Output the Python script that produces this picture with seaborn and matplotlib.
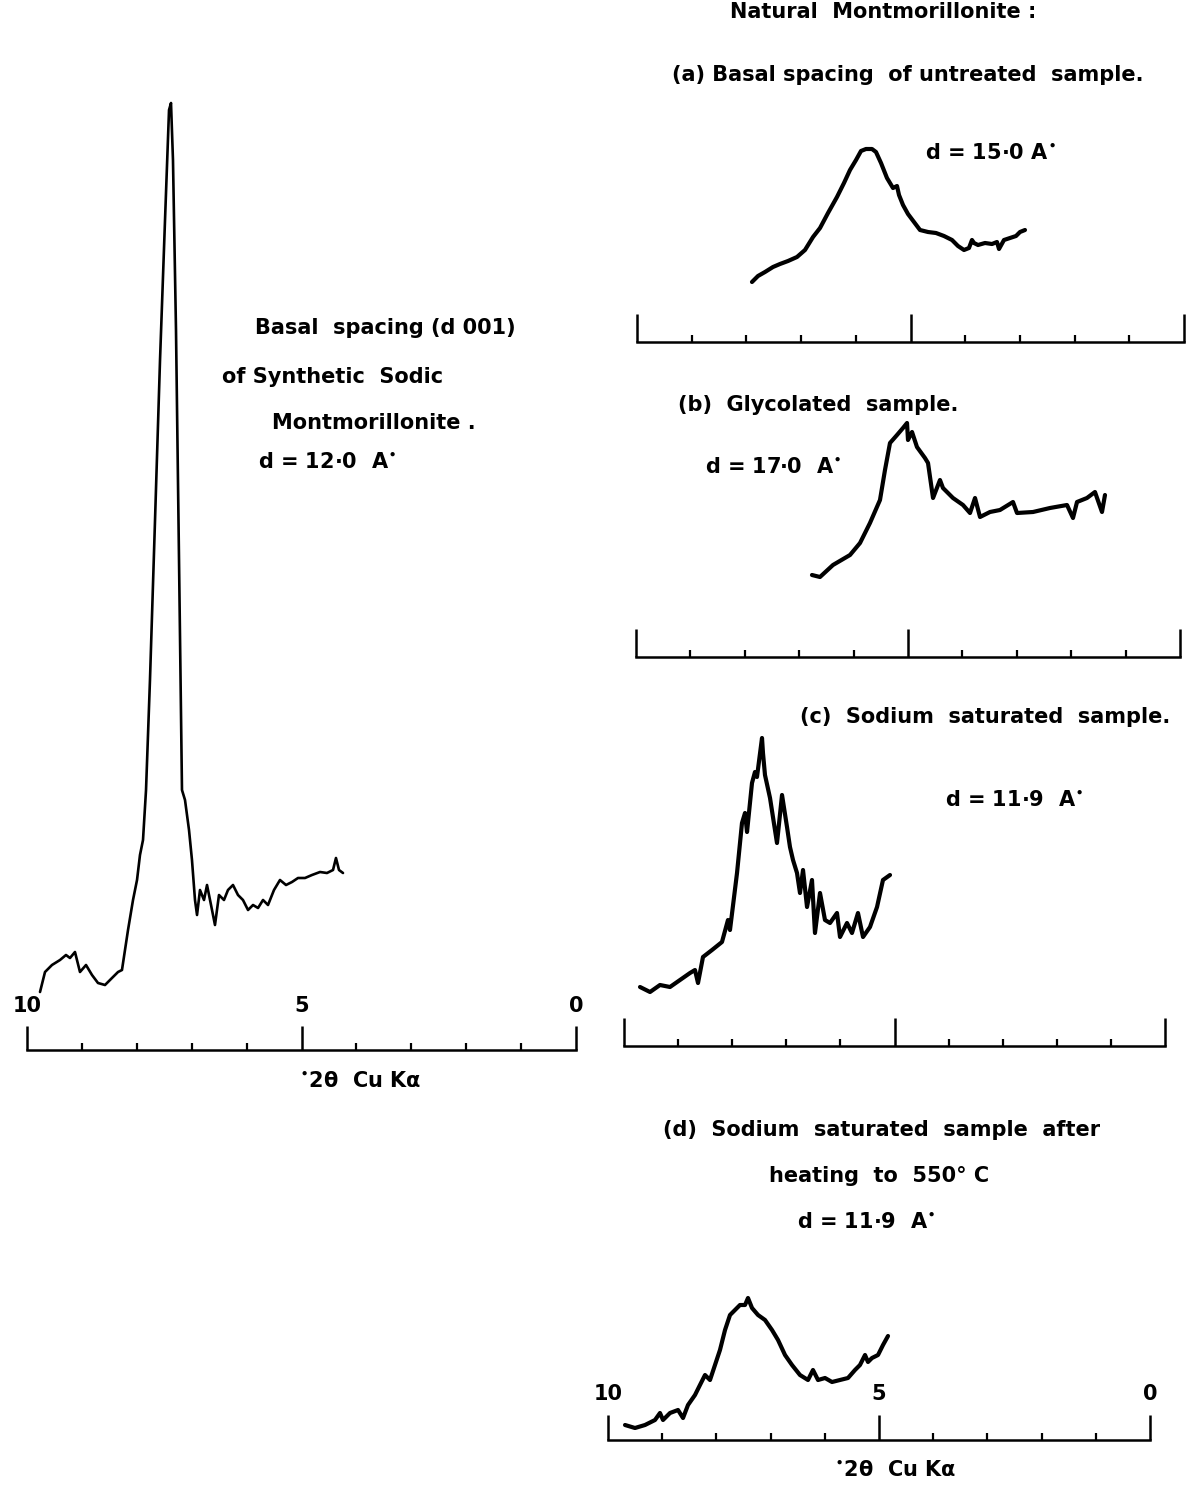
import numpy as np
import pandas as pd
import matplotlib
matplotlib.use("Agg")
import matplotlib.pyplot as plt
import seaborn as sns
from matplotlib.ticker import FixedLocator

# ---------------- diffraction traces (°2θ, relative intensity) ----------------
# Synthetic sodic montmorillonite, d(001) = 12.0 Å
two_theta_synth = [9.763, 9.672, 9.545, 9.399, 9.290, 9.217, 9.126, 9.035, 8.925, 8.816,
                   8.707, 8.579, 8.452, 8.342, 8.270, 8.160, 8.069, 7.996, 7.942, 7.887,
                   7.832, 7.760, 7.668, 7.577, 7.486, 7.413, 7.377, 7.341, 7.286, 7.231,
                   7.177, 7.122, 7.049, 6.995, 6.940, 6.903, 6.849, 6.776, 6.721, 6.648,
                   6.576, 6.503, 6.412, 6.339, 6.248, 6.157, 6.066, 5.974, 5.883, 5.792,
                   5.701, 5.610, 5.501, 5.392, 5.282, 5.173, 5.064, 4.936, 4.809, 4.663,
                   4.536, 4.426, 4.372, 4.317, 4.244]
counts_synth = [58, 78, 85, 90, 95, 92, 98, 78, 85, 75,
                67, 65, 72, 78, 80, 120, 150, 170, 195, 210,
                260, 370, 530, 690, 830, 940, 947, 890, 720, 490,
                260, 250, 220, 190, 150, 135, 160, 150, 165, 145,
                125, 155, 150, 160, 165, 155, 150, 140, 145, 142,
                150, 145, 160, 170, 165, 168, 172, 172, 175, 178,
                177, 180, 192, 180, 177]

# (a) natural montmorillonite, untreated, d = 15.0 Å
two_theta_a = [7.898, 7.788, 7.660, 7.514, 7.386, 7.239, 7.075, 6.929, 6.782, 6.654,
               6.508, 6.344, 6.216, 6.106, 5.996, 5.905, 5.814, 5.704, 5.631, 5.539,
               5.430, 5.320, 5.247, 5.210, 5.137, 5.046, 4.936, 4.826, 4.680, 4.534,
               4.388, 4.241, 4.132, 4.022, 3.931, 3.876, 3.839, 3.766, 3.638, 3.510,
               3.419, 3.382, 3.291, 3.181, 3.071, 2.998, 2.907]
counts_a = [60, 66, 70, 75, 78, 81, 85, 92, 105, 114,
            129, 145, 159, 172, 182, 191, 193, 193, 190, 179,
            164, 154, 156, 147, 137, 128, 120, 112, 110, 109,
            106, 102, 96, 92, 94, 102, 99, 97, 99, 98,
            100, 93, 102, 104, 106, 110, 112]

# (b) glycolated sample, d = 17.0 Å
two_theta_b = [6.765, 6.618, 6.379, 6.066, 5.882, 5.699, 5.515, 5.423, 5.331, 5.202,
               5.092, 5.018, 5.000, 4.926, 4.835, 4.688, 4.632, 4.540, 4.412, 4.357,
               4.173, 3.989, 3.860, 3.768, 3.676, 3.493, 3.309, 3.070, 2.996, 2.702,
               2.390, 2.077, 1.967, 1.893, 1.710, 1.563, 1.434, 1.379]
counts_b = [82, 80, 92, 102, 114, 134, 157, 187, 214, 222,
            229, 234, 217, 225, 210, 199, 194, 159, 177, 169,
            159, 152, 144, 159, 140, 145, 147, 155, 144, 145,
            149, 152, 139, 155, 159, 165, 145, 162]

# (c) sodium saturated sample, d = 11.9 Å
two_theta_c = [9.704, 9.519, 9.335, 9.150, 8.965, 8.780, 8.688, 8.632, 8.540, 8.373,
               8.189, 8.078, 8.041, 7.911, 7.819, 7.763, 7.726, 7.634, 7.579, 7.542,
               7.449, 7.431, 7.394, 7.301, 7.172, 7.079, 6.987, 6.932, 6.876, 6.802,
               6.747, 6.691, 6.617, 6.525, 6.470, 6.377, 6.285, 6.192, 6.063, 6.007,
               5.878, 5.786, 5.675, 5.582, 5.453, 5.323, 5.213, 5.083]
counts_c = [59, 54, 61, 59, 66, 73, 76, 63, 89, 96,
            104, 126, 116, 173, 223, 233, 214, 263, 274, 269,
            308, 293, 271, 248, 203, 251, 219, 199, 186, 173,
            153, 176, 139, 166, 113, 153, 126, 123, 133, 109,
            123, 113, 133, 109, 119, 139, 166, 171]

# (d) sodium saturated sample after heating to 550 °C, d = 11.9 Å
two_theta_d = [9.686, 9.502, 9.317, 9.133, 9.041, 8.985, 8.856, 8.708, 8.616, 8.524,
               8.395, 8.303, 8.210, 8.118, 8.026, 7.934, 7.841, 7.749, 7.657, 7.565,
               7.472, 7.417, 7.343, 7.232, 7.103, 6.974, 6.863, 6.734, 6.605, 6.458,
               6.310, 6.218, 6.125, 5.996, 5.867, 5.720, 5.572, 5.443, 5.351, 5.258,
               5.203, 5.129, 5.018, 4.926, 4.834]
counts_d = [15, 12, 15, 20, 27, 20, 27, 30, 22, 35,
            45, 55, 65, 60, 75, 90, 110, 125, 130, 135,
            135, 142, 132, 125, 120, 110, 100, 85, 75, 65,
            60, 70, 60, 62, 58, 60, 62, 70, 75, 85,
            78, 82, 85, 95, 104]

tick_labels = ["10", "5", "0"]
xlabel_text = r"$^{\bullet}$2θ  Cu Kα"

# ---------------- figure ----------------
sns.set_theme(style="white")
plt.rcParams["font.family"] = ["DejaVu Sans"]
plt.rcParams["axes.facecolor"] = "white"
plt.rcParams["text.color"] = "black"

W, H = 1195, 1485
fig = plt.figure(figsize=(W / 100, H / 100), dpi=100)
fig.patch.set_facecolor("white")


def panel(x10, x0, ybase, ytop, major_len, show_labels):
    """Axes whose bottom spine is a 10 → 0 °2θ scale, intensity in the same pixel units."""
    ax = fig.add_axes([x10 / W, 1 - ybase / H, (x0 - x10) / W, (ybase - ytop) / H])
    ax.set_xlim(10, 0)
    ax.set_ylim(0, ybase - ytop)
    for side in ("left", "right", "top"):
        ax.spines[side].set_visible(False)
    ax.spines["bottom"].set_linewidth(1.8)
    ax.spines["bottom"].set_color("black")
    ax.xaxis.set_major_locator(FixedLocator([10, 5, 0]))
    ax.xaxis.set_minor_locator(FixedLocator([1, 2, 3, 4, 6, 7, 8, 9]))
    ax.tick_params(axis="x", which="major", direction="in", length=major_len, width=1.8,
                   color="black", bottom=True, labelbottom=show_labels,
                   pad=-(major_len + 22), labelsize=15, labelcolor="black")
    ax.tick_params(axis="x", which="minor", direction="in", length=5, width=1.6,
                   color="black", bottom=True)
    if show_labels:
        ax.set_xticklabels(tick_labels, fontweight="bold")
    ax.set_yticks([])
    ax.set_xlabel("")
    ax.set_ylabel("")
    ax.patch.set_alpha(0)
    return ax


def trace(ax, tt, counts, lw):
    df = pd.DataFrame({"two_theta": tt, "intensity": counts})
    sns.lineplot(data=df, x="two_theta", y="intensity", ax=ax, color="black",
                 linewidth=lw, estimator=None, sort=False, legend=False)
    ax.set_xlabel("")
    ax.set_ylabel("")
    ax.set_xlim(10, 0)


ax_s = panel(27, 576, 1050, 95, 17, True)
trace(ax_s, two_theta_synth, counts_synth, 1.9)
ax_s.text(0.607, -0.032, xlabel_text, transform=ax_s.transAxes, ha="center", va="center",
          fontsize=15, fontweight="bold", color="black")

ax_a = panel(637, 1184, 342, 130, 20, False)
trace(ax_a, two_theta_a, counts_a, 3.0)

ax_b = panel(636, 1180, 657, 410, 20, False)
trace(ax_b, two_theta_b, counts_b, 3.0)

ax_c = panel(624, 1165, 1046, 720, 20, False)
trace(ax_c, two_theta_c, counts_c, 3.0)

ax_d = panel(608, 1150, 1440, 1280, 18, True)
trace(ax_d, two_theta_d, counts_d, 3.0)
ax_d.text(0.53, -0.19, xlabel_text, transform=ax_d.transAxes, ha="center", va="center",
          fontsize=15, fontweight="bold", color="black")


def label(x, y, s, ha="left"):
    fig.text(x / W, 1 - y / H, s, ha=ha, va="center", fontsize=15, fontweight="bold",
             color="black")


label(385, 328, "Basal  spacing (d 001)", ha="center")
label(222, 377, "of Synthetic  Sodic")
label(272, 423, "Montmorillonite .")
label(258, 462, r"d = 12·0  A$^{\bullet}$")

label(883, 12, "Natural  Montmorillonite :", ha="center")
label(908, 75, "(a) Basal spacing  of untreated  sample.", ha="center")
label(925, 153, r"d = 15·0 A$^{\bullet}$")

label(678, 405, "(b)  Glycolated  sample.")
label(705, 467, r"d = 17·0  A$^{\bullet}$")

label(1170, 717, "(c)  Sodium  saturated  sample.", ha="right")
label(945, 800, r"d = 11·9  A$^{\bullet}$")

label(882, 1130, "(d)  Sodium  saturated  sample  after", ha="center")
label(879, 1176, "heating  to  550° C", ha="center")
label(797, 1222, r"d = 11·9  A$^{\bullet}$")

fig.savefig("out.png", dpi=100, facecolor="white")
